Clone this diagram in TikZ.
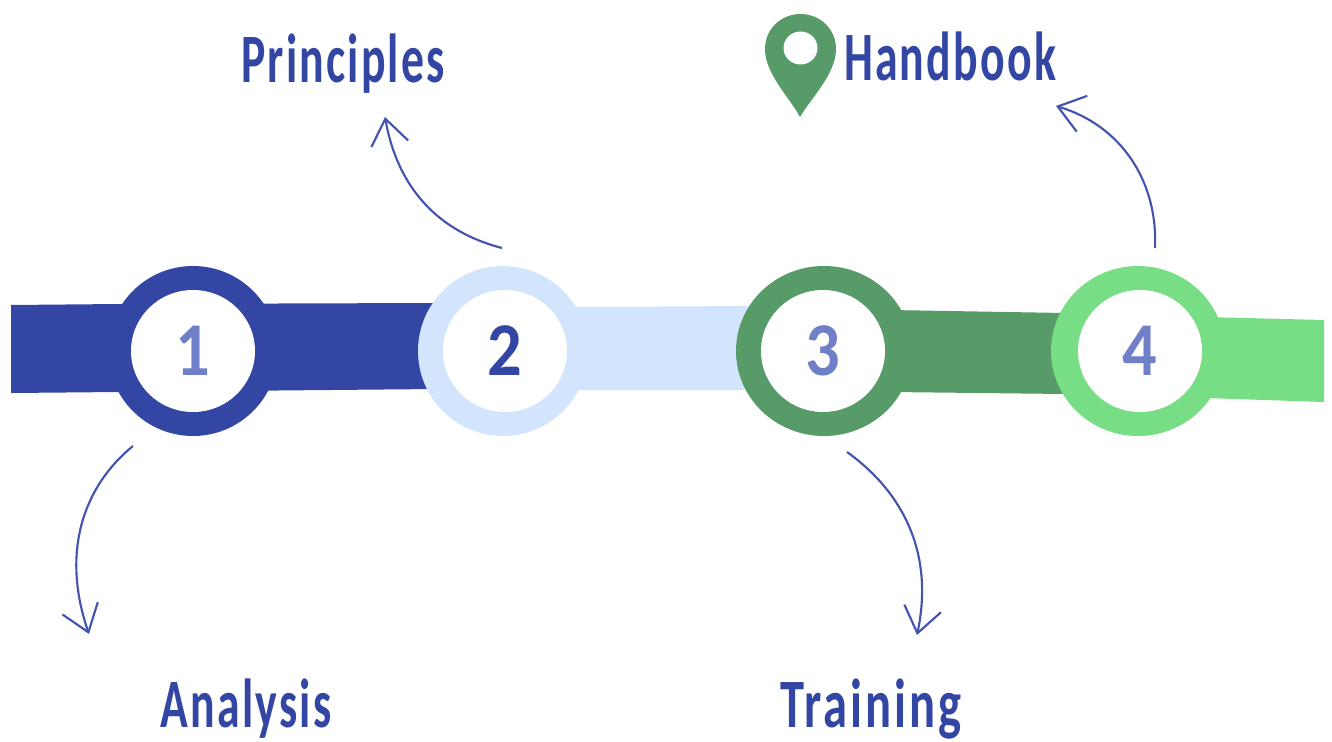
\documentclass[tikz,border=0pt]{standalone}
\usepackage{fontspec}
\usetikzlibrary{shapes.geometric,arrows.meta}
\newfontfamily\labelfont[FakeStretch=0.66,LetterSpace=3.2,BoldFont={Carlito Bold}]{Carlito}
\newfontfamily\widelabelfont[FakeStretch=0.70,LetterSpace=4.2,BoldFont={Carlito Bold}]{Carlito}
\newfontfamily\digitfont[FakeStretch=0.9]{Carlito}
\definecolor{dkblue}{HTML}{3446A3}
\definecolor{ltblue}{HTML}{D3E5FD}
\definecolor{dkgreen}{HTML}{569B68}
\definecolor{ltgreen}{HTML}{77DE85}
\definecolor{digitblue}{HTML}{6F7FC8}
\definecolor{linkblue}{HTML}{4353AE}
\tikzset{
  x=0.75pt,y=-0.75pt,
  outerring/.style={ellipse,inner sep=0pt,minimum height=170*0.75pt,fill=#1},
  innerhole/.style={ellipse,inner sep=0pt,minimum width=124*0.75pt,minimum height=122*0.75pt,fill=white,text=digitblue,font=\digitfont\bfseries\fontsize{57}{57}\selectfont},
  steplabel/.style={anchor=base,inner sep=0pt,text=dkblue,font=\labelfont\bfseries\fontsize{52}{52}\selectfont},
  widelabel/.style={anchor=base,inner sep=0pt,text=dkblue,font=\widelabelfont\bfseries\fontsize{52}{52}\selectfont},
  link/.style={draw=linkblue,line width=1.6pt,-{Straight Barb[length=19pt,width=28pt,line width=1.6pt]}},
}
\begin{document}
\begin{tikzpicture}
\useasboundingbox (0,0) rectangle (1332,742);
% bands
\fill[dkblue] (11,305) -- (120,304) -- (436,303) -- (436,389) -- (120,392) -- (11,393) -- cycle;
\fill[ltblue] (570,307) -- (750,306) -- (750,390) -- (570,390) -- cycle;
\fill[dkgreen] (890,310) -- (1065,313) -- (1065,394) -- (890,392) -- cycle;
\fill[ltgreen] (1205,317) -- (1324,320) -- (1324,402) -- (1205,398) -- cycle;
% rings
\node[outerring=dkblue,minimum width=170*0.75pt] (r1) at (193,351) {};
\node[innerhole] (n1) at (193,351) {1};
\node[outerring=ltblue,minimum width=170*0.75pt] (r2) at (503,351) {};
\node[innerhole,text=dkblue] (n2) at (505,351) {2};
\node[outerring=dkgreen,minimum width=176*0.75pt] (r3) at (824,351) {};
\node[innerhole] (n3) at (823,351) {3};
\node[outerring=ltgreen,minimum width=174*0.75pt] (r4) at (1138,351) {};
\node[innerhole] (n4) at (1140,351) {4};
% labels
\node[steplabel] (principles) at (343,83) {Principles};
\node[steplabel] (handbook) at (950,81) {Handbook};
\node[steplabel] (analysis) at (246,727) {Analysis};
\node[widelabel] (training) at (871,727) {Training};
% pin
\fill[dkgreen] (800,117) .. controls (790,98) and (765,74) .. (765,49)
  .. controls (765,29) and (781,14) .. (800.5,14)
  .. controls (820,14) and (836,29) .. (836,49)
  .. controls (836,74) and (811,98) .. (800,117) -- cycle;
\fill[white] (800.5,48) ellipse [x radius=17,y radius=16.5];
% arrows
\coordinate (a1s) at (133,446);
\coordinate (a1e) at (89,634);
\coordinate (a2s) at (502,248);
\coordinate (a2e) at (385,117);
\coordinate (a3s) at (847,452);
\coordinate (a3e) at (917,635);
\coordinate (a4s) at (1155,248);
\coordinate (a4e) at (1056,106);
\draw[link] (a1s) .. controls (85,485) and (60,550) .. (a1e);
\draw[link] (a2s) .. controls (440,232) and (398,190) .. (a2e);
\draw[link] (a3s) .. controls (900,490) and (935,550) .. (a3e);
\draw[link] (a4s) .. controls (1158,180) and (1120,125) .. (a4e);
\end{tikzpicture}
\end{document}
